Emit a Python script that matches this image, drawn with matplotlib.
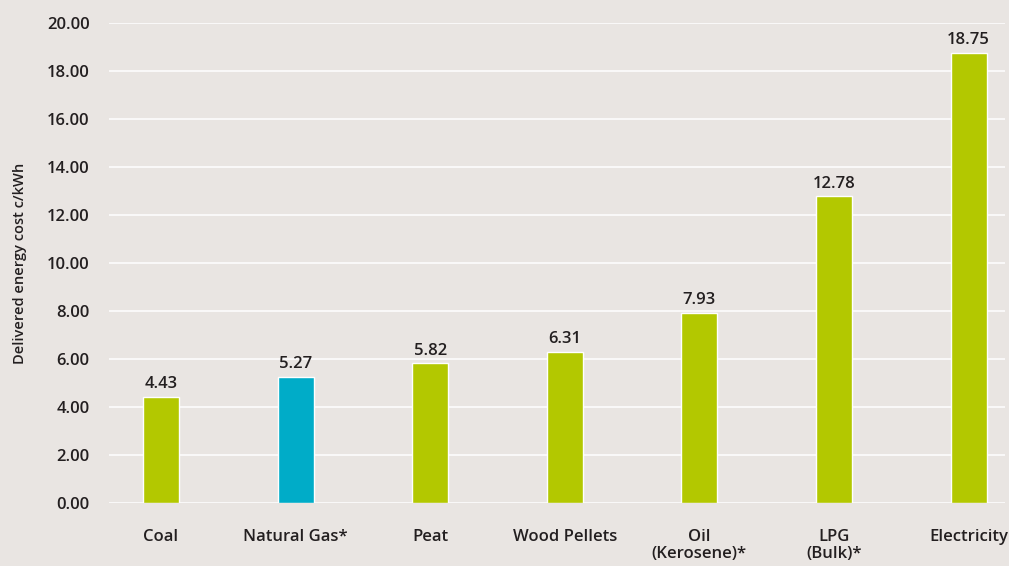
import matplotlib.pyplot as plt

# donnees
categories = ['Coal', 'Natural Gas*', 'Peat', 'Wood Pellets', 'Oil\n(Kerosene)*', 'LPG\n(Bulk)*', 'Electricity']
costs = [4.43, 5.27, 5.82, 6.31, 7.93, 12.78, 18.75]
bar_colors = ['#b3c800', '#00acc8', '#b3c800', '#b3c800', '#b3c800', '#b3c800', '#b3c800']
yticks = [0, 2, 4, 6, 8, 10, 12, 14, 16, 18, 20]

bg = '#e9e5e2'
txt = '#231f20'
plt.rcParams['font.family'] = ['Open Sans', 'DejaVu Sans']

fig = plt.figure(figsize=(10.09, 5.66), dpi=100, facecolor=bg)
ax = fig.add_axes([0.108, 0.1113, 0.888, 0.848], facecolor=bg)

x = list(range(len(categories)))
ax.set_axisbelow(True)
ax.yaxis.grid(True, color='white', linewidth=1.1)
bars = ax.bar(x, costs, width=0.267, color=bar_colors, edgecolor='white', linewidth=1)

for xi, v in zip(x, costs):
    ax.text(xi, v + 0.2, f'{v:.2f}', ha='center', va='bottom', fontsize=12,
            fontweight='semibold', color=txt)

ax.set_xlim(-0.386, 6.27)
ax.set_ylim(0, 20)
ax.set_yticks(yticks)
ax.set_yticklabels([f'{t:.2f}' for t in yticks])
ax.set_xticks(x)
ax.set_xticklabels(categories, linespacing=1.05)
ax.tick_params(axis='y', length=0, pad=14, labelsize=12, labelcolor=txt)
ax.tick_params(axis='x', length=0, pad=19, labelsize=12, labelcolor=txt)
for lab in ax.get_xticklabels() + ax.get_yticklabels():
    lab.set_fontweight('semibold')
for s in ax.spines.values():
    s.set_visible(False)

ax.set_ylabel('Delivered energy cost c/kWh', fontsize=10.5, fontweight='semibold', color=txt)
ax.yaxis.set_label_coords(-0.092, 0.5)

fig.savefig('out.png', dpi=100, facecolor=bg)
